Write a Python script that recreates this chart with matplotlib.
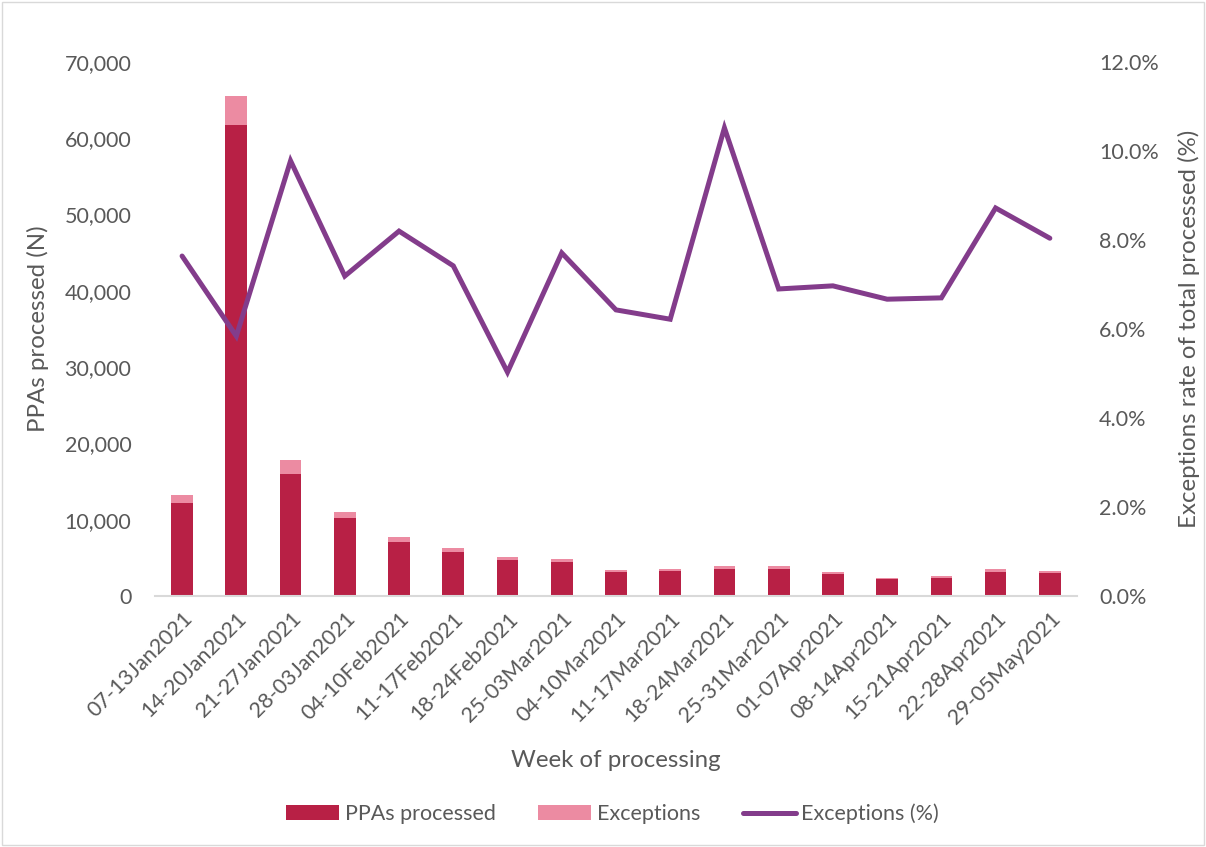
import matplotlib.pyplot as plt
import numpy as np
from matplotlib.ticker import FuncFormatter
from matplotlib.patches import Rectangle

weeks = ["07-13Jan2021", "14-20Jan2021", "21-27Jan2021", "28-03Jan2021", "04-10Feb2021",
         "11-17Feb2021", "18-24Feb2021", "25-03Mar2021", "04-10Mar2021", "11-17Mar2021",
         "18-24Mar2021", "25-31Mar2021", "01-07Apr2021", "08-14Apr2021", "15-21Apr2021",
         "22-28Apr2021", "29-05May2021"]
processed = [12200, 61800, 16000, 10250, 7100, 5800, 4750, 4500, 3200, 3300,
             3600, 3550, 2900, 2250, 2400, 3200, 3000]
exceptions = [1100, 3800, 1800, 750, 600, 500, 350, 350, 200, 200,
              400, 350, 200, 150, 200, 400, 250]
exceptions_pct = [7.64, 5.84, 9.78, 7.19, 8.2, 7.42, 5.03, 7.71, 6.43, 6.22,
                  10.52, 6.9, 6.97, 6.67, 6.7, 8.72, 8.04]

plt.rcParams["font.family"] = ["Lato", "DejaVu Sans"]
text_color = "#595959"

fig = plt.figure(figsize=(12.06, 8.47), dpi=100)
ax = fig.add_axes([0.1285, 0.2963, 0.7645, 0.6305])
ax2 = ax.twinx()

x = np.arange(len(weeks))
ax.bar(x, processed, width=0.4, color="#B82045", label="PPAs processed", zorder=2)
ax.bar(x, exceptions, width=0.4, bottom=processed, color="#EC8BA2", label="Exceptions", zorder=2)
ax2.plot(x, exceptions_pct, color="#833C8B", linewidth=3.6, solid_capstyle="round",
         solid_joinstyle="miter", label="Exceptions (%)")

ax.set_xlim(-0.5, len(weeks) - 0.5)
ax.set_ylim(0, 70000)
ax.set_yticks(np.arange(0, 70001, 10000))
ax.yaxis.set_major_formatter(FuncFormatter(lambda v, p: f"{int(v):,}"))
ax2.set_ylim(0, 12)
ax2.set_yticks(np.arange(0, 12.1, 2))
ax2.yaxis.set_major_formatter(FuncFormatter(lambda v, p: f"{v:.1f}%"))

ax.set_xticks(x)
ax.set_xticklabels(weeks, rotation=45, ha="right", rotation_mode="anchor")

for a in (ax, ax2):
    for s in a.spines.values():
        s.set_visible(False)
    a.tick_params(length=0, labelsize=15.5, labelcolor=text_color)
ax.spines["bottom"].set_visible(True)
ax.spines["bottom"].set_color("#D9D9D9")
ax.spines["bottom"].set_linewidth(1.5)
ax.tick_params(axis="y", pad=17)
ax.tick_params(axis="x", pad=9)
ax2.tick_params(axis="y", pad=16)

ax.set_xlabel("Week of processing", fontsize=17.3, color=text_color, labelpad=16)
ax.set_ylabel("PPAs processed (N)", fontsize=17.3, color=text_color, labelpad=11)
ax2.set_ylabel("Exceptions rate of total processed (%)", fontsize=17.3, color=text_color, labelpad=14)

h1, l1 = ax.get_legend_handles_labels()
h2, l2 = ax2.get_legend_handles_labels()
fig.legend(h1 + h2, l1 + l2, loc="center", bbox_to_anchor=(0.508, 0.039), ncol=3, frameon=False,
           fontsize=15.5, labelcolor=text_color, handlelength=2.45, handleheight=0.7,
           handletextpad=0.25, columnspacing=2.0)

fig.patches.append(Rectangle((0.002, 0.002), 0.996, 0.996, transform=fig.transFigure,
                             fill=False, edgecolor="#D9D9D9", linewidth=1))

fig.savefig("out.png", dpi=100)
